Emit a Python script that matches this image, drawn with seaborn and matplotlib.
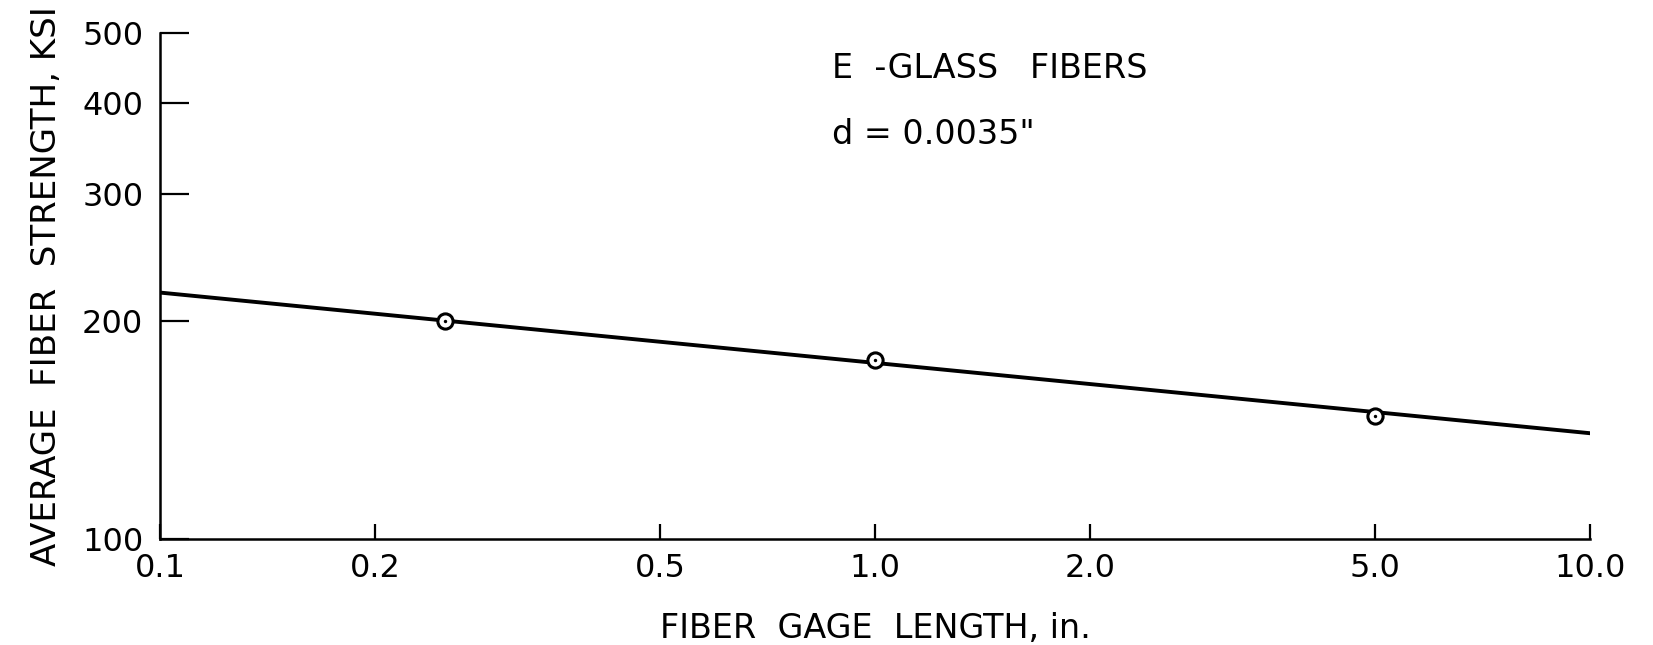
import matplotlib
matplotlib.use("Agg")
import matplotlib.pyplot as plt
import seaborn as sns
import pandas as pd

# Measured E-glass fiber strengths versus gage length
gage_length_in = [0.25, 1.0, 5.0]
strength_ksi = [200, 177, 148]

# Straight-line (log-log) fit drawn across the full gage-length range
fit_length_in = [0.1, 10.0]
fit_strength_ksi = [219, 140]

x_ticks = [0.1, 0.2, 0.5, 1.0, 2.0, 5.0, 10.0]
x_tick_labels = ["0.1", "0.2", "0.5", "1.0", "2.0", "5.0", "10.0"]
y_ticks = [100, 200, 300, 400, 500]
y_tick_labels = ["100", "200", "300", "400", "500"]

sns.set_theme(style="white")
plt.rcParams["font.family"] = ["DejaVu Sans"]

points = pd.DataFrame({"length": gage_length_in, "strength": strength_ksi})
fit = pd.DataFrame({"length": fit_length_in, "strength": fit_strength_ksi})

fig = plt.figure(figsize=(16.53, 6.45), dpi=100)
ax = fig.add_axes([0.0968, 0.1643, 0.8652, 0.7845])

sns.lineplot(data=fit, x="length", y="strength", ax=ax, color="black",
             linewidth=2.8, zorder=2)
sns.scatterplot(data=points, x="length", y="strength", ax=ax, marker="o",
                s=120, facecolor="white", edgecolor="black", linewidth=2.2,
                zorder=3)
sns.scatterplot(data=points, x="length", y="strength", ax=ax, marker="o",
                s=6, color="black", linewidth=0, zorder=4)

ax.set_xscale("log")
ax.set_yscale("log")
ax.set_xlim(0.1, 10.0)
ax.set_ylim(100, 500)

ax.set_xticks(x_ticks)
ax.set_xticklabels(x_tick_labels)
ax.set_yticks(y_ticks)
ax.set_yticklabels(y_tick_labels)
ax.xaxis.set_minor_locator(matplotlib.ticker.NullLocator())
ax.yaxis.set_minor_locator(matplotlib.ticker.NullLocator())

ax.tick_params(axis="y", direction="in", length=21, width=1.6, pad=12,
               labelsize=23, colors="black", left=True)
ax.tick_params(axis="x", direction="in", length=11, width=1.6, pad=10,
               labelsize=23, colors="black", bottom=True)

for side in ("top", "right"):
    ax.spines[side].set_visible(False)
for side in ("left", "bottom"):
    ax.spines[side].set_color("black")
    ax.spines[side].set_linewidth(1.8)

ax.set_xlabel("FIBER  GAGE  LENGTH, in.", fontsize=24, labelpad=20,
              color="black")
ax.set_ylabel("AVERAGE  FIBER  STRENGTH, KSI", fontsize=24.5, labelpad=14,
              color="black")

ax.text(0.47, 0.93, "E  -GLASS   FIBERS", transform=ax.transAxes,
        fontsize=24, ha="left", va="center", color="black")
ax.text(0.47, 0.80, "d = 0.0035\"", transform=ax.transAxes,
        fontsize=24, ha="left", va="center", color="black")

fig.savefig("out.png", dpi=100, facecolor="white")
